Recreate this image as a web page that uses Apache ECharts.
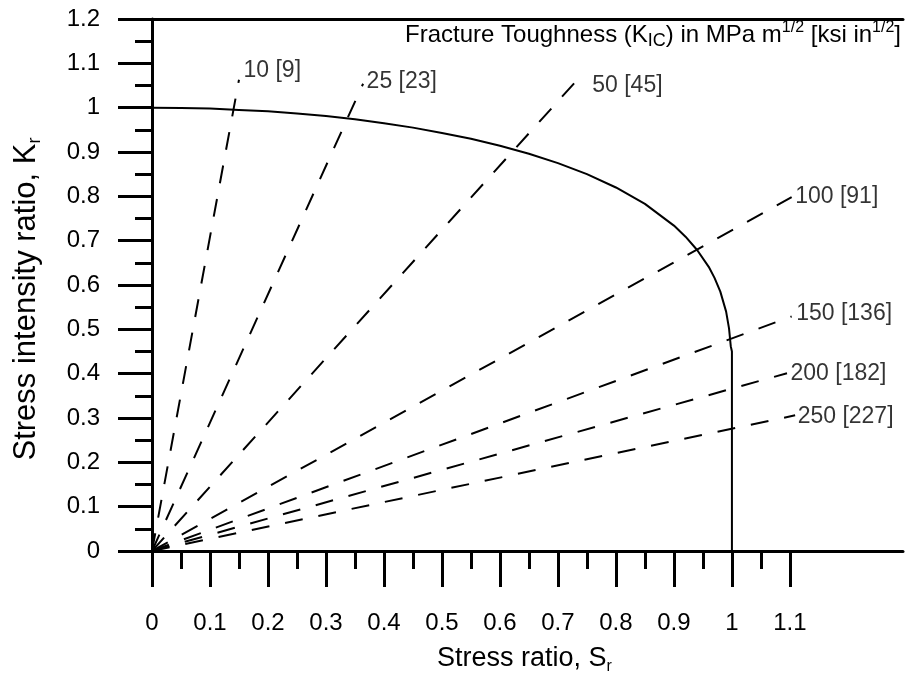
<!DOCTYPE html>
<html>
<head>
<meta charset="utf-8">
<script src="https://cdn.jsdelivr.net/npm/echarts@6/dist/echarts.min.js"></script>
<style>
  html, body { margin: 0; padding: 0; background: #fff; }
  #chart { width: 906px; height: 677px; }
</style>
</head>
<body>
<div id="chart"></div>
<script>
// Failure assessment curve: stress intensity ratio Kr against stress ratio Sr
const curveSr = [0, 0.05, 0.1, 0.15, 0.2, 0.25, 0.3, 0.35, 0.4, 0.45, 0.5, 0.55, 0.6, 0.65,
                 0.7, 0.75, 0.8, 0.85, 0.9, 0.92, 0.94, 0.96, 0.97, 0.98, 0.99, 0.995, 0.998, 1, 1];
const curveKr = [1, 0.9995, 0.998, 0.995, 0.992, 0.987, 0.981, 0.974, 0.965, 0.955, 0.943, 0.930, 0.914, 0.896,
                 0.875, 0.850, 0.820, 0.783, 0.734, 0.709, 0.679, 0.641, 0.616, 0.585, 0.540, 0.502, 0.462, 0.45, 0];

// Constant fracture-toughness load lines, drawn from the origin to their end points
const toughnessLabels = ['10 [9]', '25 [23]', '50 [45]', '100 [91]', '150 [136]', '200 [182]', '250 [227]'];
const lineEndSr = [0.150, 0.364, 0.741, 1.103, 1.103, 1.095, 1.109];
const lineEndKr = [1.063, 1.054, 1.074, 0.798, 0.529, 0.401, 0.306];

// Axis ticks
const xMajorTicks = [0, 0.1, 0.2, 0.3, 0.4, 0.5, 0.6, 0.7, 0.8, 0.9, 1, 1.1];
const xMinorTicks = [0.05, 0.15, 0.25, 0.35, 0.45, 0.55, 0.65, 0.75, 0.85, 0.95, 1.05];

const FONT = "'Liberation Sans', Arial, Helvetica, sans-serif";
const INK = '#000';

// pixel nudges for the toughness labels relative to each line end
const labelOffsets = [[4, -9], [3, -2], [10, 11], [3, -1], [4, -3], [3, 0], [2, 1]];

const chart = echarts.init(document.getElementById('chart'), null, { renderer: 'canvas' });

const curveData = curveSr.map((s, i) => [s, curveKr[i]]);

const loadLineSeries = toughnessLabels.map((name, i) => ({
  type: 'line',
  name: name,
  data: [[0, 0], [lineEndSr[i], lineEndKr[i]]],
  symbol: 'none',
  silent: true,
  lineStyle: { color: INK, width: 2, type: [18, 16] },
  z: 3
}));

const labelSeries = {
  type: 'scatter',
  silent: true,
  symbolSize: 1,
  itemStyle: { color: 'transparent' },
  data: toughnessLabels.map((name, i) => ({
    value: [lineEndSr[i], lineEndKr[i]],
    name: name,
    label: { offset: labelOffsets[i] }
  })),
  label: {
    show: true,
    position: 'right',
    distance: 0,
    formatter: p => p.name,
    color: INK,
    fontFamily: FONT,
    fontSize: 23
  },
  z: 5
};

const option = {
  animation: false,
  backgroundColor: '#fff',
  title: {
    text: 'Fracture Toughness (K{sub|IC}) in MPa m{sup|1/2} [ksi in{sup|1/2}]',
    right: 5,
    top: 20,
    padding: 0,
    textStyle: {
      fontFamily: FONT,
      fontSize: 24,
      fontWeight: 'normal',
      color: INK,
      lineHeight: 30,
      rich: {
        sub: { fontFamily: FONT, fontSize: 18, color: INK, verticalAlign: 'bottom', lineHeight: 16 },
        sup: { fontFamily: FONT, fontSize: 16, color: INK, verticalAlign: 'top', lineHeight: 15 }
      }
    }
  },
  grid: { left: 152, right: 3, top: 19, bottom: 126, containLabel: false, outerBoundsMode: 'none' },
  xAxis: [
    {
      type: 'value',
      position: 'bottom',
      min: 0,
      max: 1.295,
      name: 'Stress ratio, S{sub|r}',
      nameLocation: 'middle',
      nameGap: 92,
      nameTextStyle: {
        fontFamily: FONT, fontSize: 27, color: INK, lineHeight: 32,
        padding: [0, 6, 0, 0],
        rich: {
          sub: { fontFamily: FONT, fontSize: 16, color: INK, verticalAlign: 'bottom', lineHeight: 14 }
        }
      },
      axisLine: { show: true, lineStyle: { color: INK, width: 3 } },
      axisTick: { show: true, customValues: xMajorTicks, length: 36, inside: false, lineStyle: { color: INK, width: 3 } },
      axisLabel: { show: true, customValues: xMajorTicks, margin: 60, fontFamily: FONT, fontSize: 24, color: INK },
      splitLine: { show: false },
      z: 10
    },
    {
      type: 'value',
      position: 'bottom',
      min: 0,
      max: 1.295,
      axisLine: { show: false },
      axisTick: { show: true, customValues: xMinorTicks, length: 18, lineStyle: { color: INK, width: 3 } },
      axisLabel: { show: false },
      splitLine: { show: false },
      z: 10
    },
    {
      type: 'value',
      position: 'top',
      min: 0,
      max: 1.295,
      axisLine: { show: true, lineStyle: { color: INK, width: 3 } },
      axisTick: { show: false },
      axisLabel: { show: false },
      splitLine: { show: false },
      z: 10
    }
  ],
  yAxis: [
    {
      type: 'value',
      position: 'left',
      min: 0,
      max: 1.2,
      interval: 0.1,
      name: 'Stress intensity ratio, K{sub|r}',
      nameLocation: 'middle',
      nameGap: 108,
      nameTextStyle: {
        fontFamily: FONT, fontSize: 31, color: INK, lineHeight: 36,
        padding: [0, 28, 0, 0],
        rich: {
          sub: { fontFamily: FONT, fontSize: 18, color: INK, verticalAlign: 'bottom', lineHeight: 16 }
        }
      },
      axisLine: { show: true, lineStyle: { color: INK, width: 3 } },
      axisTick: { show: true, length: 34, lineStyle: { color: INK, width: 3 } },
      minorTick: { show: true, splitNumber: 2, length: 17, lineStyle: { color: INK, width: 3 } },
      axisLabel: { margin: 52, fontFamily: FONT, fontSize: 24, color: INK },
      splitLine: { show: false },
      minorSplitLine: { show: false },
      z: 10
    },
    {
      type: 'value',
      position: 'right',
      min: 0,
      max: 1.2,
      axisLine: { show: true, lineStyle: { color: INK, width: 1.5 } },
      axisTick: { show: false },
      axisLabel: { show: false },
      splitLine: { show: false },
      z: 10
    }
  ],
  series: [
    {
      type: 'line',
      name: 'FAD',
      data: curveData,
      symbol: 'none',
      silent: true,
      lineStyle: { color: INK, width: 2 },
      z: 4
    },
    ...loadLineSeries,
    labelSeries
  ]
};

chart.setOption(option);
</script>
</body>
</html>
